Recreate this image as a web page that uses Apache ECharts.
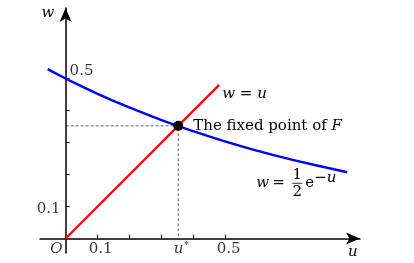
<!DOCTYPE html>
<html><head><meta charset="utf-8">
<script src="https://cdn.jsdelivr.net/npm/echarts@6/dist/echarts.min.js"></script>
<style>html,body{margin:0;padding:0;background:#fff}#c{width:414px;height:263px}</style>
</head><body><div id="c"></div>
<script>
// curve w = 1/2 e^{-u}
const curveU = [-0.056, 0, 0.1, 0.2, 0.3, 0.4, 0.5, 0.6, 0.7, 0.8, 0.88];
const curveW = [0.529, 0.5, 0.452, 0.409, 0.370, 0.335, 0.303, 0.274, 0.248, 0.225, 0.207];
// line w = u
const lineU = [0, 0.48];
const lineW = [0, 0.48];
// fixed point
const fixedU = 0.352;
const fixedW = 0.352;
// ticks and labels
const xTicks = [0.1, 0.2, 0.3, 0.4, 0.5];
const yTicks = [0.1, 0.2, 0.3, 0.4, 0.5];
const xLabelValues = [0.1, 0.352, 0.5];
const xLabelTexts = ['0.1', 'u*', '0.5'];
const yLabelLeft = [0.1];
const yLabelRight = [0.5];
const xRange = [-0.08, 0.92];
const yRange = [-0.045, 0.72];

const SERIF = '"DejaVu Serif", "Liberation Serif", serif';
const FS = 15;
const chart = echarts.init(document.getElementById('c'), null, {renderer: 'canvas'});

const curveData = curveU.map((u, i) => [u, curveW[i]]);
const lineData = lineU.map((u, i) => [u, lineW[i]]);
const itRich = {i: {fontFamily: SERIF, fontStyle: 'italic', fontSize: FS, color: '#000'},
                s: {fontFamily: SERIF, fontSize: 9, color: '#000', verticalAlign: 'top', padding: [0, 0, 7, 1]}};

chart.setOption({
  animation: false,
  backgroundColor: '#fff',
  grid: {left: 40, right: 54, top: 8, bottom: 10, containLabel: false, outerBoundsMode: 'none'},
  xAxis: {
    type: 'value', min: xRange[0], max: xRange[1],
    splitLine: {show: false},
    axisLine: {onZero: true, lineStyle: {color: '#000', width: 1.5}, symbol: ['none', 'arrow'], symbolSize: [9, 14]},
    axisTick: {show: true, inside: true, length: 4, customValues: xTicks, lineStyle: {color: '#000', width: 1.2}},
    axisLabel: {show: false}
  },
  yAxis: {
    type: 'value', min: yRange[0], max: yRange[1],
    splitLine: {show: false},
    axisLine: {onZero: true, lineStyle: {color: '#000', width: 1.5}, symbol: ['none', 'arrow'], symbolSize: [9, 14]},
    axisTick: {show: true, inside: true, length: 4, customValues: yTicks, lineStyle: {color: '#000', width: 1.2}},
    axisLabel: {show: false}
  },
  series: [
    {
      type: 'line', data: [[0, fixedW], [fixedU, fixedW], [fixedU, 0]],
      symbol: 'none', silent: true, z: 1,
      lineStyle: {color: '#333', width: 0.8, type: [3, 2]}
    },
    {
      type: 'line', data: curveData, smooth: true, symbol: 'none', z: 2,
      lineStyle: {color: '#0000ff', width: 2.4}
    },
    {
      type: 'line', data: lineData, symbol: 'none', z: 3,
      lineStyle: {color: '#ff0000', width: 2.2},
      endLabel: {show: true, distance: 3, offset: [0, 9], formatter: '{i|w} = {i|u}',
        fontFamily: SERIF, fontSize: FS, color: '#000', rich: itRich}
    },
    {
      type: 'scatter', data: [[fixedU, fixedW]], symbolSize: 10, z: 10,
      itemStyle: {color: '#000', opacity: 1},
      label: {show: true, position: 'right', distance: 10, formatter: 'The fixed point of {i|F}',
        fontFamily: SERIF, fontSize: FS, color: '#000', rich: itRich}
    },
    {
      type: 'scatter', data: xLabelValues.map(v => [v, 0]), symbolSize: 0, z: 5,
      label: {show: true, position: 'bottom', distance: 3, offset: [3, 0],
        formatter: p => { const t = xLabelTexts[p.dataIndex]; return t === 'u*' ? '{i|u}{s|*}' : t; },
        fontFamily: SERIF, fontSize: FS, color: '#000', rich: itRich}
    },
    {
      type: 'scatter', data: yLabelLeft.map(v => [0, v]), symbolSize: 0, z: 5,
      label: {show: true, position: 'left', distance: 5, offset: [0, 3], formatter: p => p.value[1].toFixed(1),
        fontFamily: SERIF, fontSize: FS, color: '#000'}
    },
    {
      type: 'scatter', data: yLabelRight.map(v => [0, v]), symbolSize: 0, z: 5,
      label: {show: true, position: 'right', distance: 4, offset: [0, -7], formatter: p => p.value[1].toFixed(1),
        fontFamily: SERIF, fontSize: FS, color: '#000'}
    },
    {
      type: 'scatter', data: [[0, 0]], symbolSize: 0, z: 5,
      label: {show: true, position: 'left', distance: 3, offset: [0, 11], formatter: 'O',
        fontFamily: SERIF, fontStyle: 'italic', fontSize: FS, color: '#000'}
    }
  ]
});

// annotations positioned from the axes
const xEnd = chart.convertToPixel({gridIndex: 0}, [xRange[1], 0]);
const yEnd = chart.convertToPixel({gridIndex: 0}, [0, yRange[1]]);
const cEnd = chart.convertToPixel({gridIndex: 0}, curveData[curveData.length - 1]);
const it = {fontFamily: SERIF, fontStyle: 'italic', fontSize: FS, fill: '#000'};
const rm = {fontFamily: SERIF, fontSize: FS, fill: '#000'};
const fx = cEnd[0] - 91, fy = cEnd[1] + 11;
chart.setOption({
  graphic: [
    {type: 'text', x: xEnd[0] - 12, y: xEnd[1] + 6, style: Object.assign({text: 'u'}, it)},
    {type: 'text', x: yEnd[0] - 24, y: yEnd[1] - 2, style: Object.assign({text: 'w'}, it)},
    {type: 'text', x: fx, y: fy, style: Object.assign({text: 'w', verticalAlign: 'middle'}, it)},
    {type: 'text', x: fx + 16, y: fy, style: Object.assign({text: '=', verticalAlign: 'middle'}, rm)},
    {type: 'text', x: fx + 41, y: fy - 8, style: Object.assign({text: '1', align: 'center', verticalAlign: 'middle', fontSize: 12}, rm)},
    {type: 'line', shape: {x1: fx + 36, y1: fy, x2: fx + 46, y2: fy}, style: {stroke: '#000', lineWidth: 0.8}},
    {type: 'text', x: fx + 41, y: fy + 9, style: Object.assign({text: '2', align: 'center', verticalAlign: 'middle', fontSize: 12}, rm)},
    {type: 'text', x: fx + 49, y: fy, style: Object.assign({text: 'e', verticalAlign: 'middle'}, rm)},
    {type: 'text', x: fx + 58, y: fy - 5, style: Object.assign({text: '\u2212u', verticalAlign: 'middle', fontSize: 8}, it)}
  ]
});
</script></body></html>
